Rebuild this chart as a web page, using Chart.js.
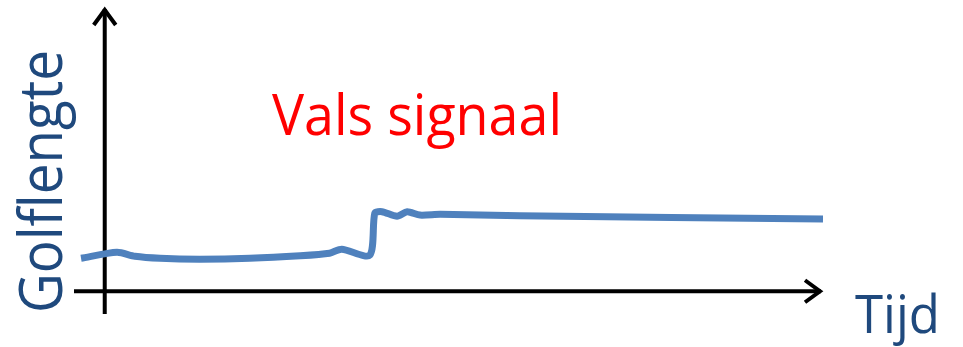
<!DOCTYPE html>
<html>
<head>
<meta charset="utf-8">
<script src="https://cdn.jsdelivr.net/npm/chart.js@4/dist/chart.umd.min.js"></script>
<style>
  html, body { margin: 0; padding: 0; background: #fff; }
  #wrap { width: 963px; height: 347px; position: relative; }
</style>
</head>
<body>
<div id="wrap"><canvas id="signalChart"></canvas></div>
<script>
// tijd (x) en golflengte (y)
const tijd = [-3.3, 1.7, 4.2, 7.7, 13.2, 20.2, 27.2, 31.3, 33.0, 36.9, 37.6, 38.6, 40.7, 42.1, 43.9, 46.7, 57.8, 100];
const golflengte = [11.6, 13.7, 12.3, 11.6, 11.3, 11.6, 12.5, 13.4, 14.8, 12.7, 27.5, 28.0, 26.4, 28.0, 26.8, 27.1, 26.6, 25.4];

const title = 'Vals signaal';
const yLabel = 'Golflengte';
const xLabel = 'Tijd';

const points = tijd.map((t, i) => ({ x: t, y: golflengte[i] }));

const FONT = '"Open Sans", "Liberation Sans", sans-serif';

// draw text fitted to a cap height and a width
function fitText(ctx, text, x, baseline, capH, width, color, rotate) {
    const size = capH / 0.714;
    ctx.save();
    ctx.font = size + 'px ' + FONT;
    const w = ctx.measureText(text).width;
    ctx.translate(x, baseline);
    if (rotate) ctx.rotate(-Math.PI / 2);
    ctx.scale(width / w, 1);
    ctx.fillStyle = color;
    ctx.textBaseline = 'alphabetic';
    ctx.fillText(text, 0, 0);
    ctx.restore();
}

const axesPlugin = {
    id: 'arrowAxes',
    beforeDatasetsDraw(chart) {
        const ctx = chart.ctx;
        const xs = chart.scales.x, ys = chart.scales.y;
        const x0 = xs.getPixelForValue(0);
        const y0 = ys.getPixelForValue(0);
        const top = chart.chartArea.top;
        const bottom = chart.chartArea.bottom;
        const left = chart.chartArea.left - 2;
        const right = chart.chartArea.right;
        ctx.save();
        ctx.strokeStyle = '#000';
        ctx.lineWidth = 4;
        ctx.lineCap = 'butt';
        ctx.beginPath();
        ctx.moveTo(x0, bottom);
        ctx.lineTo(x0, top + 2);
        ctx.moveTo(left, y0);
        ctx.lineTo(right - 2, y0);
        ctx.stroke();
        ctx.lineJoin = 'miter';
        ctx.beginPath();
        ctx.moveTo(x0 - 11, top + 18);
        ctx.lineTo(x0, top + 3);
        ctx.lineTo(x0 + 11, top + 18);
        ctx.moveTo(right - 18, y0 - 11);
        ctx.lineTo(right - 3, y0);
        ctx.lineTo(right - 18, y0 + 11);
        ctx.stroke();
        ctx.restore();
    },
    afterDraw(chart) {
        const ctx = chart.ctx;
        fitText(ctx, title, 272, 135, 40, 290, '#FF0000', false);
        fitText(ctx, yLabel, 62, 313, 43, 263, '#1F497D', true);
        fitText(ctx, xLabel, 855, 333, 38, 85, '#1F497D', false);
    }
};

new Chart(document.getElementById('signalChart'), {
    type: 'line',
    data: {
        datasets: [{
            data: points,
            borderColor: '#4F81BD',
            borderWidth: 7,
            pointRadius: 0,
            tension: 0.25,
            fill: false,
            clip: false
        }]
    },
    options: {
        responsive: true,
        maintainAspectRatio: false,
        animation: false,
        events: [],
        layout: { padding: { left: 76, right: 140, top: 7, bottom: 33 } },
        plugins: { legend: { display: false }, tooltip: { enabled: false } },
        scales: {
            x: { type: 'linear', min: -4, max: 100, display: false },
            y: { min: -8, max: 100, display: false }
        }
    },
    plugins: [axesPlugin]
});
</script>
</body>
</html>
